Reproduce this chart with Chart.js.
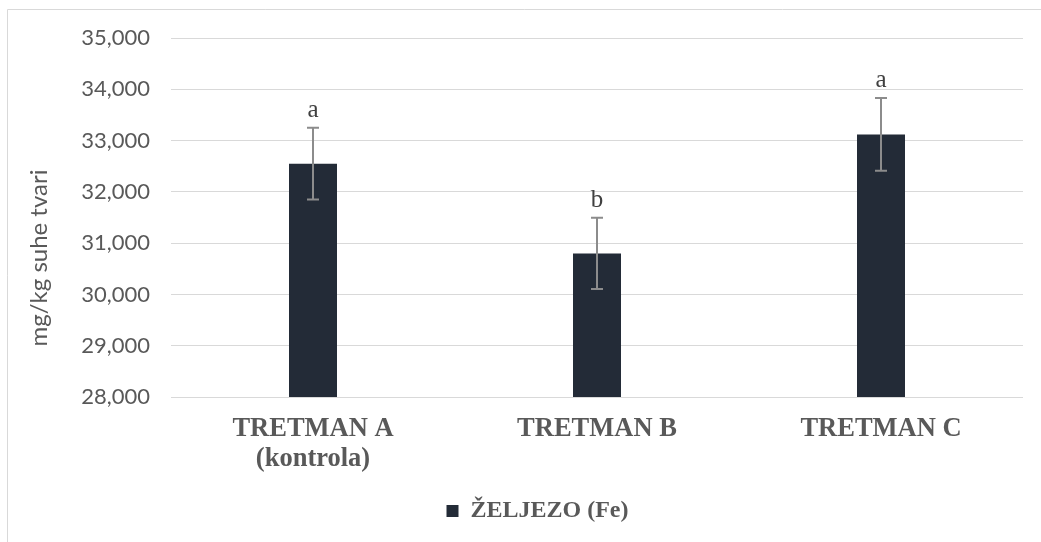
<!DOCTYPE html>
<html>
<head>
<meta charset="utf-8">
<script src="https://cdn.jsdelivr.net/npm/chart.js@4/dist/chart.umd.min.js"></script>
<style>
  html, body { margin: 0; padding: 0; background: #ffffff; }
  #wrap { position: relative; width: 1041px; height: 542px; }
</style>
</head>
<body>
<div id="wrap"><canvas id="c" width="1041" height="542"></canvas></div>
<script>
const categories = [["TRETMAN A", "(kontrola)"], "TRETMAN B", "TRETMAN C"];
const seriesName = "ŽELJEZO (Fe)";
const values = [32550, 30800, 33120];
const errors = [700, 695, 710];
const letters = ["a", "b", "a"];
const yMin = 28000;
const yMax = 35000;
const yStep = 1000;
const yTitle = "mg/kg suhe tvari";

const BAR_COLOR = "#232b37";
const TEXT_COLOR = "#595959";
const GRID_COLOR = "#d9d9d9";
const SERIF = "'Liberation Serif', 'Times New Roman', serif";
const SANS = "Lato, 'Liberation Sans', sans-serif";

const frame = {
  id: "frame",
  beforeDraw(chart) {
    const ctx = chart.ctx;
    ctx.save();
    ctx.strokeStyle = "#d9d9d9";
    ctx.lineWidth = 1;
    ctx.beginPath();
    ctx.moveTo(7.5, 542);
    ctx.lineTo(7.5, 9.5);
    ctx.lineTo(1041, 9.5);
    ctx.stroke();
    ctx.restore();
  }
};

const legendShift = {
  id: "legendShift",
  afterLayout(chart) {
    const lg = chart.legend;
    if (lg) { lg.left += 26; lg.right += 26; }
  }
};

const axisTitle = {
  id: "axisTitle",
  afterDraw(chart) {
    const ctx = chart.ctx;
    ctx.save();
    ctx.translate(39, 258);
    ctx.rotate(-Math.PI / 2);
    ctx.fillStyle = TEXT_COLOR;
    ctx.font = "24px " + SANS;
    ctx.textAlign = "center";
    ctx.textBaseline = "middle";
    ctx.fillText(yTitle, 0, 0);
    ctx.restore();
  }
};

const errorBars = {
  id: "errorBars",
  afterDatasetsDraw(chart) {
    const ctx = chart.ctx;
    const y = chart.scales.y;
    const meta = chart.getDatasetMeta(0);
    ctx.save();
    meta.data.forEach((bar, i) => {
      const x = bar.x;
      const top = y.getPixelForValue(values[i] + errors[i]);
      const bot = y.getPixelForValue(values[i] - errors[i]);
      ctx.strokeStyle = "#8c8c8c";
      ctx.lineWidth = 2;
      ctx.beginPath();
      ctx.moveTo(x, top);
      ctx.lineTo(x, bot);
      ctx.moveTo(x - 6, top);
      ctx.lineTo(x + 6, top);
      ctx.moveTo(x - 6, bot);
      ctx.lineTo(x + 6, bot);
      ctx.stroke();
      ctx.fillStyle = "#404040";
      ctx.font = "25px " + SERIF;
      ctx.textAlign = "center";
      ctx.textBaseline = "alphabetic";
      ctx.fillText(letters[i], x, top - 11);
    });
    ctx.restore();
  }
};

new Chart(document.getElementById("c"), {
  type: "bar",
  data: {
    labels: categories,
    datasets: [{
      label: seriesName,
      data: values,
      backgroundColor: BAR_COLOR,
      borderWidth: 0,
      categoryPercentage: 1,
      barPercentage: 0.169
    }]
  },
  options: {
    responsive: false,
    animation: false,
    devicePixelRatio: 1,
    layout: { padding: { left: 0, right: 18, top: 38, bottom: 9 } },
    plugins: {
      tooltip: { enabled: false },
      legend: {
        position: "bottom",
        labels: {
          color: TEXT_COLOR,
          boxWidth: 12,
          boxHeight: 12,
          padding: 10,
          font: { family: SERIF, size: 24, weight: "bold" }
        }
      }
    },
    scales: {
      x: {
        grid: { display: false, drawTicks: false },
        border: { display: false },
        ticks: {
          color: TEXT_COLOR,
          padding: 18,
          maxRotation: 0,
          autoSkip: false,
          font: { family: SERIF, size: 26.5, weight: "bold", lineHeight: 1.1 }
        },
        afterFit(scale) { scale.height = 92; }
      },
      y: {
        min: yMin,
        max: yMax,
        grid: { color: GRID_COLOR, lineWidth: 1, drawTicks: false },
        border: { display: false },
        ticks: {
          stepSize: yStep,
          color: TEXT_COLOR,
          padding: 21,
          font: { family: SANS, size: 22 },
          callback: (v) => Number(v).toLocaleString("en-US")
        },
        title: { display: false },
        afterFit(scale) { scale.width = 171; }
      }
    }
  },
  plugins: [frame, legendShift, errorBars, axisTitle]
});
</script>
</body>
</html>
